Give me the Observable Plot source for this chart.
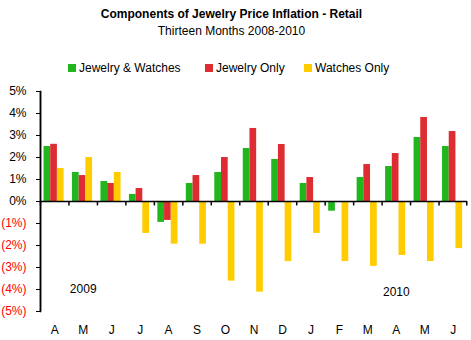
<!DOCTYPE html>
<html>
<head>
<meta charset="utf-8">
<script src="https://cdn.jsdelivr.net/npm/d3@7"></script>
<script src="https://cdn.jsdelivr.net/npm/@observablehq/plot@0.6"></script>
<style>
  body { margin: 0; background: #fff; font-family: "Liberation Sans", Arial, sans-serif; }
  #wrap { position: relative; width: 471px; height: 340px; }
  #head { position: relative; width: 471px; height: 80px; }
  .t { position: absolute; left: 0; width: 463px; text-align: center; font-size: 12px; line-height: 14px; color: #000; white-space: nowrap; }
  .leg { position: absolute; font-size: 12px; line-height: 14px; white-space: nowrap; }
  .sw { position: absolute; width: 8px; height: 8px; }
</style>
</head>
<body>
<div id="wrap">
  <div id="head">
    <div class="t" style="top:7px;font-weight:bold;">Components of Jewelry Price Inflation - Retail</div>
    <div class="t" style="top:24px;">Thirteen Months 2008-2010</div>
    <div id="legend"></div>
  </div>
  <div id="chart"></div>
</div>
<script>
// Data
const months = ["A","M","J","J","A","S","O","N","D","J","F","M","A","M","J"];
const series = ["Jewelry & Watches", "Jewelry Only", "Watches Only"];
const colors = ["#22B61E", "#DE2C33", "#FFCC00"];
const jewelryWatches = [2.5, 1.32, 0.91, 0.32, -0.95, 0.82, 1.32, 2.41, 1.91, 0.82, -0.44, 1.09, 1.59, 2.91, 2.5];
const jewelryOnly    = [2.6, 1.18, 0.82, 0.59, -0.86, 1.18, 2.0, 3.32, 2.59, 1.09, 0, 1.68, 2.18, 3.82, 3.18];
const watchesOnly    = [1.5, 2.0, 1.32, -1.45, -1.94, -1.94, -3.62, -4.12, -2.73, -1.45, -2.73, -2.95, -2.45, -2.73, -2.14];
const yearLabels = [{i: 1, text: "2009", y: -4.0}, {i: 12, text: "2010", y: -4.12}];
const yTicksPos = [0, 1, 2, 3, 4, 5];
const yTicksNeg = [-1, -2, -3, -4, -5];

const keys = months.map((m, i) => i);
const values = [jewelryWatches, jewelryOnly, watchesOnly];
const fmt = v => v < 0 ? `(${-v}%)` : `${v}%`;

// Legend
const legend = document.getElementById("legend");
const legX = [68, 205, 304];
series.forEach((s, k) => {
  const sw = document.createElement("div");
  sw.className = "sw";
  sw.style.left = legX[k] + "px";
  sw.style.top = "64px";
  sw.style.background = colors[k];
  legend.appendChild(sw);
  const t = document.createElement("div");
  t.className = "leg";
  t.style.left = (legX[k] + 11) + "px";
  t.style.top = "61px";
  t.textContent = s;
  legend.appendChild(t);
});

const W = 471, ML = 40, MR = 4;
const bw = (W - ML - MR) / months.length;
const pad = 3.5, barW = 6.7;

const barMarks = values.map((vals, k) => Plot.barY(vals.map((v, i) => ({i, v})), {
  x: "i", y: "v", fill: colors[k],
  insetLeft: pad + barW * k,
  insetRight: bw - (pad + barW * (k + 1))
}));

const chart = Plot.plot({
  width: W,
  height: 260,
  marginLeft: ML,
  marginRight: MR,
  marginTop: 11,
  marginBottom: 29,
  style: {fontFamily: '"Liberation Sans", Arial, sans-serif', fontSize: "12px", background: "#fff", color: "#000"},
  x: {type: "band", domain: keys, padding: 0, round: false, axis: null},
  y: {domain: [-5, 5], axis: null},
  marks: [
    ...barMarks,
    Plot.ruleY([0], {stroke: "#000", strokeWidth: 1.5}),
    Plot.ruleX(keys, {x: d => d, y1: 0, y2: -0.2, dx: -bw / 2, stroke: "#000", strokeWidth: 1.5}),
    Plot.ruleX([keys[keys.length - 1]], {x: d => d, y1: 0, y2: -0.2, dx: bw / 2 - 0.75, stroke: "#000", strokeWidth: 1.5}),
    Plot.ruleX([keys[0]], {x: d => d, y1: -5, y2: 5, dx: -bw / 2, stroke: "#000", strokeWidth: 1.5}),
    Plot.frame({anchor: "left", stroke: "#000", strokeWidth: 1.5}),
    Plot.axisY(yTicksPos, {anchor: "left", tickSize: 4, tickPadding: 10, tickFormat: fmt, fill: "#000", stroke: "#000", fontSize: 12}),
    Plot.axisY(yTicksNeg, {anchor: "left", tickSize: 4, tickPadding: 10, tickFormat: fmt, fill: "#FF0000", stroke: "#000", fontSize: 12}),
    Plot.axisX(keys, {anchor: "bottom", tickSize: 0, tickPadding: 14, tickFormat: i => months[i], fill: "#000", fontSize: 12, label: null}),
    Plot.text(yearLabels, {x: "i", y: "y", text: "text", fill: "#000", fontSize: 12}),
  ]
});
document.getElementById("chart").appendChild(chart);
</script>
</body>
</html>
